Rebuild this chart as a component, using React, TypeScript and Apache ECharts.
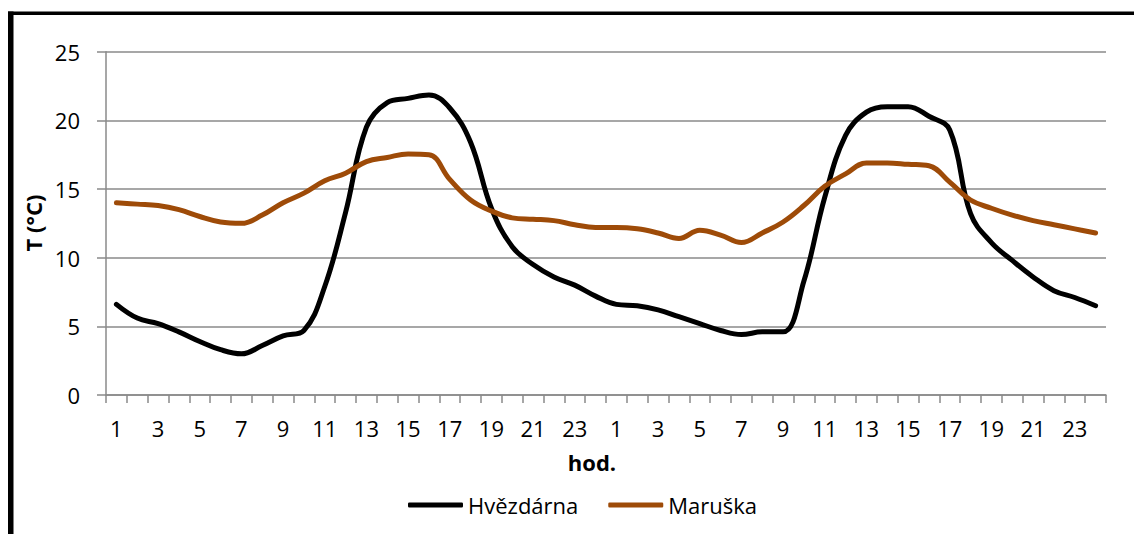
import React, { useEffect, useRef } from "react";
import * as echarts from "echarts";

const hours: string[] = [
  "1","2","3","4","5","6","7","8","9","10","11","12","13","14","15","16","17","18","19","20","21","22","23","24",
  "1","2","3","4","5","6","7","8","9","10","11","12","13","14","15","16","17","18","19","20","21","22","23","24",
];

const hvezdarna: number[] = [
  6.6, 5.6, 5.2, 4.6, 3.9, 3.3, 3.0, 3.6, 4.3, 4.7, 7.9, 13.3,
  19.5, 21.3, 21.6, 21.85, 20.9, 18.4, 13.6, 10.8, 9.5, 8.6, 8.0, 7.2,
  6.6, 6.5, 6.2, 5.7, 5.2, 4.7, 4.4, 4.6, 4.6, 8.3, 14.4, 18.9,
  20.6, 21.0, 21.0, 20.3, 19.3, 13.2, 11.1, 9.8, 8.6, 7.6, 7.1, 6.5,
];

const maruska: number[] = [
  14.0, 13.9, 13.8, 13.5, 13.0, 12.6, 12.5, 13.1, 14.0, 14.7, 15.6, 16.15,
  17.0, 17.3, 17.55, 17.5, 15.7, 14.2, 13.4, 12.9, 12.8, 12.7, 12.4, 12.2,
  12.2, 12.1, 11.8, 11.4, 12.0, 11.65, 11.1, 11.8, 12.6, 13.8, 15.2, 16.1,
  16.9, 16.9, 16.8, 16.7, 15.5, 14.2, 13.6, 13.1, 12.7, 12.4, 12.1, 11.8,
];

const seriesNames = ["Hvězdárna", "Maruška"];
const yTicks = { min: 0, max: 25, interval: 5 };

const FONT = "'Open Sans', sans-serif";

export default function App() {
  const ref = useRef<HTMLDivElement>(null);
  useEffect(() => {
    if (!ref.current) return;
    const chart = echarts.init(ref.current, null, { renderer: "svg" });
    chart.setOption({
      animation: false,
      backgroundColor: "#ffffff",
      textStyle: { fontFamily: FONT },
      grid: { left: 106, right: 28, top: 51.7, bottom: 139, containLabel: false },
      xAxis: {
        type: "category",
        data: hours,
        boundaryGap: true,
        axisLine: { show: true, lineStyle: { color: "#8a8a8a", width: 1.5 } },
        axisTick: { show: true, interval: 0, length: 8, lineStyle: { color: "#8a8a8a", width: 1.5 } },
        axisLabel: { interval: 1, margin: 22, color: "#000", fontSize: 22, fontFamily: FONT },
        splitLine: { show: false },
      },
      yAxis: {
        type: "value",
        min: yTicks.min,
        max: yTicks.max,
        interval: yTicks.interval,
        axisLine: { show: true, lineStyle: { color: "#8a8a8a", width: 1.5 } },
        axisTick: { show: true, length: 9, lineStyle: { color: "#8a8a8a", width: 1.5 } },
        axisLabel: { margin: 26, color: "#000", fontSize: 22, fontFamily: FONT },
        splitLine: { show: true, lineStyle: { color: "#8a8a8a", width: 1.5 } },
      },
      legend: {
        data: seriesNames,
        left: 403,
        top: 489,
        icon: "roundRect",
        itemWidth: 55,
        itemHeight: 5,
        itemGap: 30,
        textStyle: { color: "#000", fontSize: 22, fontFamily: FONT, padding: [0, 0, 0, 0] },
      },
      graphic: [
        { type: "rect", shape: { x: 8, y: 11.5, width: 1126, height: 3.5 }, style: { fill: "#000" } },
        { type: "rect", shape: { x: 8, y: 11.5, width: 5.5, height: 523 }, style: { fill: "#000" } },
        {
          type: "text",
          x: 33,
          y: 223,
          rotation: Math.PI / 2,
          style: {
            text: "T (°C)",
            font: `bold 22px ${FONT}`,
            fill: "#000",
            align: "center",
            verticalAlign: "middle",
          },
        },
        {
          type: "text",
          x: 592,
          y: 462,
          style: {
            text: "hod.",
            font: `bold 22px ${FONT}`,
            fill: "#000",
            align: "center",
            verticalAlign: "middle",
          },
        },
      ],
      series: [
        {
          name: seriesNames[0],
          type: "line",
          data: hvezdarna,
          smooth: 0.4,
          symbol: "none",
          lineStyle: { color: "#000000", width: 5, cap: "round", join: "round" },
          itemStyle: { color: "#000000" },
        },
        {
          name: seriesNames[1],
          type: "line",
          data: maruska,
          smooth: 0.4,
          symbol: "none",
          lineStyle: { color: "#9E4B08", width: 5, cap: "round", join: "round" },
          itemStyle: { color: "#9E4B08" },
        },
      ],
    });
    return () => chart.dispose();
  }, []);
  return (
    <div
      ref={ref}
      style={{ position: "fixed", left: 0, top: 0, width: 1134, height: 534 }}
    />
  );
}
